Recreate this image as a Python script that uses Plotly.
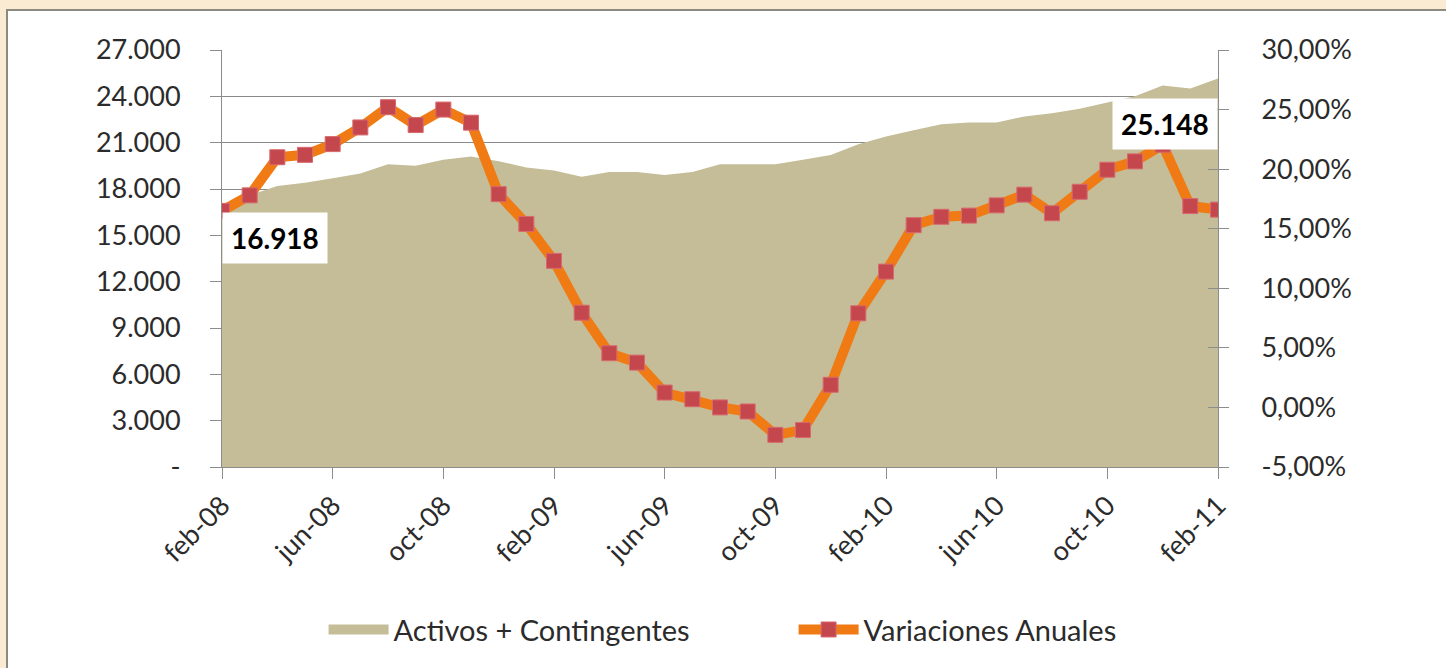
import plotly.graph_objects as go

months = ["feb-08", "mar-08", "abr-08", "may-08", "jun-08", "jul-08", "ago-08", "sep-08",
          "oct-08", "nov-08", "dic-08", "ene-09", "feb-09", "mar-09", "abr-09", "may-09",
          "jun-09", "jul-09", "ago-09", "sep-09", "oct-09", "nov-09", "dic-09", "ene-10",
          "feb-10", "mar-10", "abr-10", "may-10", "jun-10", "jul-10", "ago-10", "sep-10",
          "oct-10", "nov-10", "dic-10", "ene-11", "feb-11"]

activos = [16918, 17600, 18200, 18400, 18700, 19000, 19600, 19500, 19900, 20100,
           19800, 19400, 19200, 18800, 19100, 19100, 18900, 19100, 19600, 19600,
           19600, 19900, 20200, 20900, 21400, 21800, 22200, 22300, 22300, 22700,
           22900, 23200, 23600, 24000, 24700, 24500, 25148]

variaciones = [16.5, 17.8, 21.0, 21.2, 22.1, 23.5, 25.2, 23.7, 25.0, 23.9,
               17.9, 15.4, 12.3, 7.95, 4.55, 3.76, 1.25, 0.69, 0.0, -0.34,
               -2.3, -1.9, 1.9, 7.9, 11.4, 15.3, 16.0, 16.1, 16.96, 17.86,
               16.3, 18.1, 19.95, 20.65, 22.05, 16.9, 16.6]

x_tick_labels = ["feb-08", "jun-08", "oct-08", "feb-09", "jun-09", "oct-09",
                 "feb-10", "jun-10", "oct-10", "feb-11"]

left_tick_vals = [0, 3000, 6000, 9000, 12000, 15000, 18000, 21000, 24000, 27000]
left_tick_text = ["-", "3.000", "6.000", "9.000", "12.000", "15.000", "18.000",
                  "21.000", "24.000", "27.000"]

right_tick_vals = [-5, 0, 5, 10, 15, 20, 25, 30]
right_tick_text = ["-5,00%", "0,00%", "5,00%", "10,00%", "15,00%", "20,00%",
                   "25,00%", "30,00%"]

FONT = "Lato"
TXT = "#2b2b2b"
AXIS = "#8c8c8c"
AREA = "#C4BD97"

fig = go.Figure()

fig.add_trace(go.Scatter(
    x=months, y=activos, name="Activos + Contingentes",
    mode="none", fill="tozeroy", fillcolor=AREA,
    yaxis="y", hoverinfo="x+y", showlegend=False, legendgroup="a"))

# legend entry for the area (thicker swatch than the default fill symbol)
fig.add_trace(go.Scatter(
    x=[months[0]], y=[None], name="Activos + Contingentes", mode="lines",
    line=dict(color=AREA, width=16), yaxis="y", legendgroup="a",
    hoverinfo="skip"))

fig.add_trace(go.Scatter(
    x=months, y=variaciones, name="Variaciones Anuales",
    mode="lines+markers", yaxis="y2",
    line=dict(color="#F07A14", width=10),
    marker=dict(symbol="square", size=15, color="#C4474E",
                line=dict(color="#D8696E", width=1))))

# helper trace so the inner tick marks axis (y3) is rendered
fig.add_trace(go.Scatter(x=[months[0]], y=[None], yaxis="y3", showlegend=False,
                         hoverinfo="skip", mode="markers"))

fig.update_layout(
    width=1446, height=668,
    margin=dict(l=222, r=228, t=50, b=201, autoexpand=False),
    paper_bgcolor="#FCEBD3",
    plot_bgcolor="rgba(0,0,0,0)",
    font=dict(family=FONT, size=27, color=TXT),
    showlegend=True,
    legend=dict(orientation="h", x=0.102, xanchor="left", y=-0.39, yanchor="middle",
                font=dict(size=29, family=FONT, color=TXT),
                itemwidth=60, entrywidth=395, bgcolor="rgba(0,0,0,0)",
                traceorder="normal"),
    xaxis=dict(
        type="category", range=[0, len(months) - 1],
        tickmode="array", tickvals=x_tick_labels, ticktext=x_tick_labels,
        tickangle=-45, ticks="outside", ticklen=11, tickcolor=AXIS, tickwidth=1,
        showline=True, linecolor=AXIS, linewidth=1, showgrid=False,
        tickfont=dict(size=27, family=FONT, color=TXT), zeroline=False),
    yaxis=dict(
        range=[0, 27000], tickmode="array", tickvals=left_tick_vals,
        ticktext=left_tick_text, ticks="outside", ticklen=11, tickcolor=AXIS,
        showline=True, linecolor=AXIS, linewidth=1, showgrid=True,
        gridcolor="#8a8a8a", gridwidth=1, zeroline=False,
        ticklabelstandoff=24,
        tickfont=dict(size=27, family=FONT, color=TXT)),
    yaxis2=dict(
        range=[-5, 30], overlaying="y", side="right", tickmode="array",
        tickvals=right_tick_vals, ticktext=right_tick_text, ticks="outside",
        ticklen=10, tickcolor=AXIS, showline=True, linecolor=AXIS, linewidth=1,
        showgrid=False, zeroline=False, ticklabelstandoff=27,
        tickfont=dict(size=27, family=FONT, color=TXT)),
    yaxis3=dict(
        range=[-5, 30], overlaying="y", side="right", tickmode="array",
        tickvals=right_tick_vals, ticks="inside", ticklen=10, tickcolor=AXIS,
        showline=False, showgrid=False, zeroline=False, showticklabels=False),
)

# white panel with grey border on the peach background
fig.add_shape(type="rect", xref="paper", yref="paper",
              x0=(7 - 222) / 996, x1=(1460 - 222) / 996,
              y0=(467 - 700) / 417, y1=(467 - 10) / 417,
              fillcolor="white", line=dict(color="#8a8a80", width=2), layer="below")

fig.add_annotation(x=months[0], y=activos[0], xref="x", yref="y",
                   text="<b>16.918</b>", showarrow=False,
                   xanchor="left", yanchor="top", yshift=-6,
                   bgcolor="white", borderpad=8,
                   font=dict(size=28, family=FONT, color="black"))
fig.add_annotation(x=months[-1], y=activos[-1], xref="x", yref="y",
                   text="<b>25.148</b>", showarrow=False,
                   xanchor="right", yanchor="top", yshift=-19,
                   bgcolor="white", borderpad=8,
                   font=dict(size=28, family=FONT, color="black"))

fig.write_html("out.html",
               config={"displayModeBar": False},
               post_script="document.body.style.margin='0';"
                           "document.body.style.background='#FCEBD3';")
